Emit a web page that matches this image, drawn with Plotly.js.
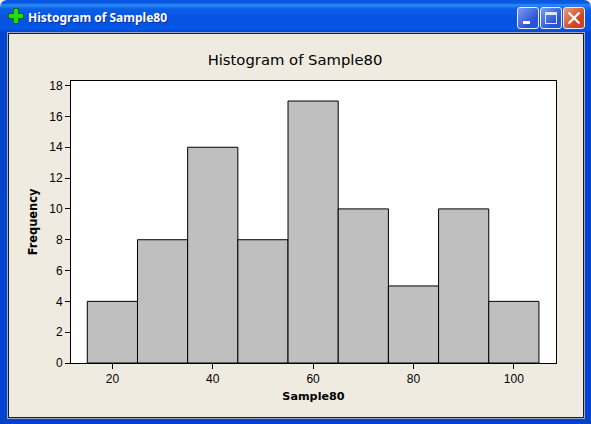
<!DOCTYPE html>
<html><head><meta charset="utf-8">
<script src="https://cdn.plot.ly/plotly-3.0.1.min.js"></script>
<style>
html,body{margin:0;padding:0;width:591px;height:424px;overflow:hidden;background:#f2f0e6}
#win{position:absolute;left:0;top:0;width:591px;height:424px;border-radius:7px 7px 0 0;overflow:hidden;
background:linear-gradient(#0a57e0 0,#0a5ae8 3px,#2d8cf5 5px,#0a5fe8 9px,#0553e0 20px,#0656e6 29px,#0344cc 33px,#0342d0 100%)}
#inner{position:absolute;left:8px;top:33px;width:574px;height:383px;background:#efebe0;border:1px solid #1c1c1c;box-shadow:0 0 0 1px #9aa7c8}
#cap{position:absolute;left:28px;top:9px;color:#fff;font:bold 12px "Noto Sans",sans-serif;white-space:nowrap;text-shadow:1px 1px 0 #0a2f9a}
.plus{position:absolute;background:#22e000;border:1px solid #063}
.btn{position:absolute;top:7px;width:20px;height:20px;border:1px solid #e8eefc;border-radius:3px;background:linear-gradient(135deg,#7d9df0,#2a52d8 70%)}
#gd{position:absolute;left:0;top:0;width:591px;height:424px}
</style></head><body>
<div id="win">
<div class="plus" style="left:13px;top:8px;width:4px;height:14px"></div>
<div class="plus" style="left:8px;top:13px;width:14px;height:4px"></div>
<div class="plus" style="left:14px;top:9px;width:4px;height:12px;border:0"></div>
<div id="cap">Histogram of Sample80</div>
<div class="btn" style="left:517px"><div style="position:absolute;left:5px;top:13px;width:7px;height:3px;background:#fff"></div></div>
<div class="btn" style="left:540px"><div style="position:absolute;left:4px;top:4px;border:1px solid #dfe7ff;border-top-width:3px;box-sizing:border-box;width:12px;height:12px"></div></div>
<div class="btn" style="left:563px;background:linear-gradient(135deg,#ec9b7e,#d2401c 70%)"><svg width="20" height="20" style="position:absolute;left:0;top:0"><path d="M4.500 4.500L15.500 15.500M15.500 4.500L4.500 15.500" stroke="#fff" stroke-width="2.200"/></svg></div>
<div id="inner"></div>
</div>
<div id="gd"></div>
<script>
var binCenters=[20,30,40,50,60,70,80,90,100];
var frequencies=[4,8,14,8,17,10,5,10,4];
var xTicks=[20,40,60,80,100];
var yTicks=[0,2,4,6,8,10,12,14,16,18];
var chartTitle='Histogram of Sample80';
var xLabel='Sample80';
var yLabel='Frequency';
var fontName='"DejaVu Sans",sans-serif';
var tickFont={size:12,family:'"Liberation Sans",Arial,sans-serif',color:'#000'};
Plotly.newPlot('gd',[{type:'bar',x:binCenters,y:frequencies,width:10,
 marker:{color:'#bfbfbf',line:{color:'#000',width:1}}}],
{width:591,height:424,autosize:false,showlegend:false,bargap:0,
 paper_bgcolor:'rgba(0,0,0,0)',plot_bgcolor:'#fff',
 margin:{l:71,r:35,t:81,b:61,pad:0},
 font:{family:fontName,color:'#000',size:11},
 title:{text:chartTitle,font:{size:14.8,family:fontName,color:'#000'},x:295/591,xanchor:'center',y:0.858,yanchor:'middle'},
 xaxis:{range:[11.75,108.4],tickvals:xTicks,ticks:'outside',ticklen:5,tickcolor:'#000',tickwidth:1,showgrid:false,zeroline:false,
  showline:true,linecolor:'#000',linewidth:1,mirror:true,tickfont:tickFont,
  title:{text:'<b>'+xLabel+'</b>',font:{size:11.2},standoff:6}},
 yaxis:{range:[0,18.3],tickvals:yTicks,ticks:'outside',ticklen:5,tickcolor:'#000',tickwidth:1,showgrid:false,zeroline:false,
  showline:true,linecolor:'#000',linewidth:1,mirror:true,tickfont:tickFont,
  title:{text:'<b>'+yLabel+'</b>',font:{size:11.4},standoff:9}}
},{displayModeBar:false,staticPlot:true});
</script>
</body></html>
